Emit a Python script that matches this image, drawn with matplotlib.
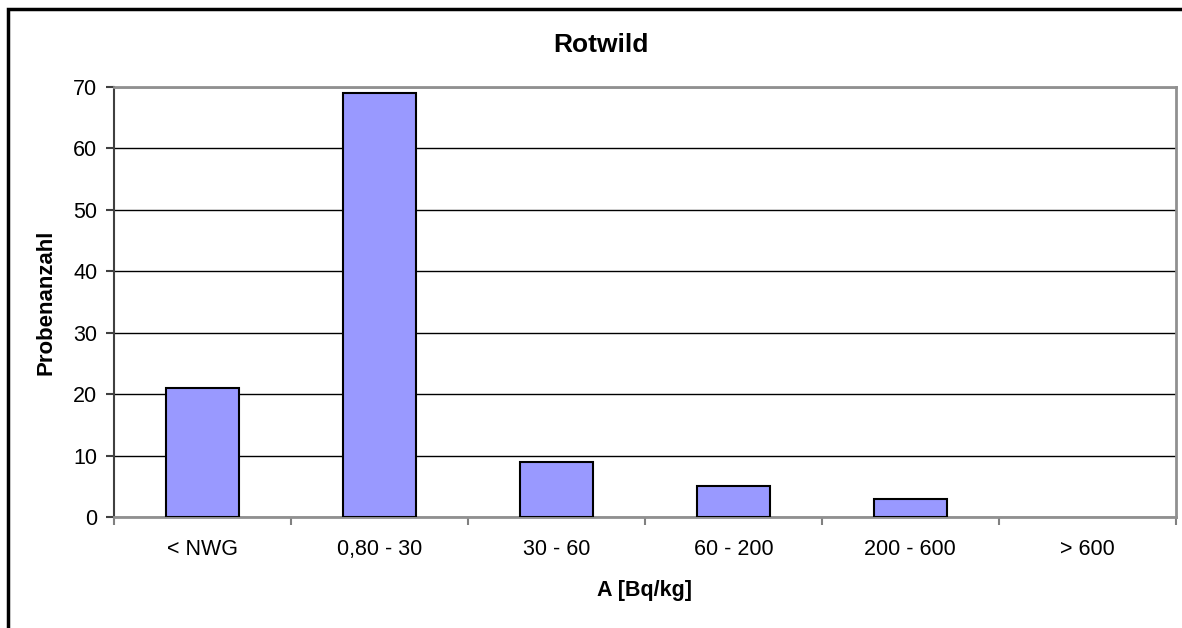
import matplotlib
matplotlib.use("Agg")
import matplotlib.pyplot as plt
from matplotlib.patches import Rectangle
import numpy as np

# Data
categories = ["< NWG", "0,80 - 30", "30 - 60", "60 - 200", "200 - 600", "> 600"]
counts = [21, 69, 9, 5, 3, 0]
y_ticks = [0, 10, 20, 30, 40, 50, 60, 70]

bar_color = "#9999FF"
font = "Liberation Sans"
plt.rcParams["font.family"] = [font, "DejaVu Sans"]

fig = plt.figure(figsize=(11.82, 6.28), dpi=100)
ax = fig.add_axes([0.0964, 0.1768, 0.8983, 0.6847])

x = np.arange(len(categories))
bars = ax.bar(x, counts, width=0.41, color=bar_color, edgecolor="black", linewidth=1.5, zorder=3)
for b, c in zip(bars, counts):
    if c == 0:
        b.set_linewidth(0)

ax.set_xlim(-0.5, len(categories) - 0.5)
ax.set_ylim(0, 70)
ax.set_yticks(y_ticks)
ax.yaxis.grid(True, color="black", linewidth=1.0, zorder=0)

# category labels centred, tick marks between categories
ax.set_xticks(x)
ax.set_xticklabels(categories, fontsize=15.5)
ax.tick_params(axis="x", length=0, pad=16)
ax.set_xticks(np.arange(-0.5, len(categories)), minor=True)
ax.tick_params(axis="x", which="minor", length=6, width=1.5, color="#808080", direction="out")
ax.tick_params(axis="y", labelsize=15.5, length=6, width=1.5, color="#404040", pad=6)

for side in ["top", "right", "bottom"]:
    ax.spines[side].set_color("#909090")
    ax.spines[side].set_linewidth(2)
ax.spines["left"].set_color("#404040")
ax.spines["left"].set_linewidth(1.5)

fig.text(601 / 1182, 1 - 45 / 628, "Rotwild", fontsize=19, fontweight="bold",
         ha="center", va="center")
ax.set_xlabel("A [Bq/kg]", fontsize=15.5, fontweight="bold", labelpad=14)
ax.set_ylabel("Probenanzahl", fontsize=16, fontweight="bold", labelpad=12)

# chart area border (only left/top visible in the reference)
fig.patches.append(Rectangle((8 / 1182, -0.1), 1.2, 1.1 - 9 / 628,
                             transform=fig.transFigure, fill=False,
                             edgecolor="black", linewidth=2.5))

fig.savefig("out.png", dpi=100)
